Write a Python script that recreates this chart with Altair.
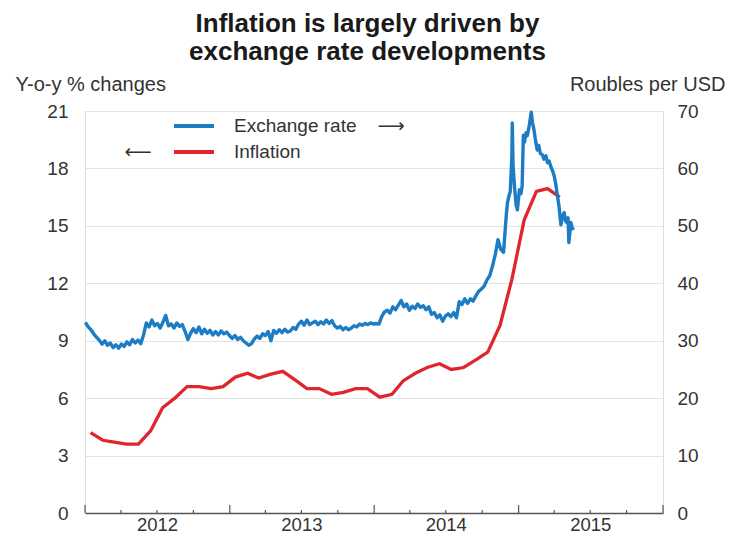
import altair as alt
import pandas as pd

# ---------------- data ----------------
TITLE_TEXT = "Inflation is largely driven by\nexchange rate developments"
LEFT_TITLE = "Y-o-y % changes"
RIGHT_TITLE = "Roubles per USD"
SERIES = ["Exchange rate", "Inflation"]
LEFT_TICKS = [0, 3, 6, 9, 12, 15, 18, 21]
RIGHT_TICKS = [0, 10, 20, 30, 40, 50, 60, 70]
YEARS = [2012, 2013, 2014, 2015]
ARROW_LEFT = "\u27f5"
ARROW_RIGHT = "\u27f6"

# Inflation, y-o-y %, monthly Jan 2012 - Apr 2015
inflation_values = [
    4.2, 3.8, 3.7, 3.6, 3.6, 4.3, 5.5, 6.0, 6.6, 6.6, 6.5, 6.6,
    7.1, 7.3, 7.05, 7.25, 7.4, 6.95, 6.5, 6.5, 6.2, 6.3, 6.5, 6.5,
    6.05, 6.2, 6.9, 7.3, 7.6, 7.8, 7.5, 7.6, 8.0, 8.4, 9.8, 12.2,
    15.3, 16.8, 16.95, 16.5,
]

# Exchange rate, roubles per USD, weekly (Mondays) 2 Jan 2012 - 24 Nov 2014
exchange_weekly = [
    # 2012
    33.2, 32.4, 31.9, 31.2, 30.6,
    30.1, 29.4, 30.0, 29.2,
    29.6, 28.8, 29.3, 28.7,
    29.4, 29.0, 29.8, 29.3, 30.2,
    29.6, 30.1, 29.5, 31.0,
    33.1, 32.4, 33.6, 32.6,
    33.0, 32.2, 33.2, 34.4, 32.6,
    32.9, 32.2, 33.1, 32.5,
    32.8, 31.6, 30.2, 31.3,
    32.1, 31.4, 32.4, 31.2, 32.0,
    31.3, 31.8, 31.0, 31.6,
    31.0, 31.7, 31.2, 31.5, 30.9,
    # 2013
    30.4, 30.9, 30.2, 30.6,
    30.0, 29.6, 29.2, 29.5,
    30.3, 30.8, 30.4, 31.2,
    30.9, 31.6, 30.0, 31.8, 31.3,
    31.9, 31.4, 32.0, 31.5,
    31.7, 32.3, 32.0, 32.9,
    33.4, 32.7, 33.6, 32.8, 33.1,
    33.4, 32.8, 33.3, 32.9,
    33.6, 33.0, 33.5, 32.6, 32.2,
    32.5, 31.9, 32.3, 31.9,
    32.2, 32.6, 32.4, 32.9,
    32.7, 33.0, 32.8, 33.1, 32.9,
    # 2014
    33.0, 32.9, 34.2, 35.0,
    35.3, 34.8, 35.9, 35.4,
    36.2, 37.0, 35.9, 36.4, 35.3,
    36.0, 35.6, 36.4, 35.8,
    36.1, 35.4, 35.9, 34.6,
    34.9, 34.0, 34.5, 33.4, 34.3,
    34.7, 34.2, 34.9, 34.0,
    36.8, 36.3, 37.3, 36.5,
    37.3, 36.9, 37.8, 38.6, 39.0,
    39.5, 40.6, 41.3, 43.0,
    45.0, 47.6, 45.9, 45.4,
]

# Exchange rate during the crisis, Dec 2014 - May 2015
crisis_dates = [
    "2014-12-01", "2014-12-04", "2014-12-08", "2014-12-11", "2014-12-15",
    "2014-12-16", "2014-12-18", "2014-12-22", "2014-12-26", "2014-12-29",
    "2015-01-03", "2015-01-07", "2015-01-10", "2015-01-13", "2015-01-16",
    "2015-01-20", "2015-01-23", "2015-01-28", "2015-02-02", "2015-02-05",
    "2015-02-09", "2015-02-12", "2015-02-17", "2015-02-21", "2015-02-25",
    "2015-03-02", "2015-03-06", "2015-03-11", "2015-03-15", "2015-03-19",
    "2015-03-24", "2015-03-28", "2015-04-01", "2015-04-05", "2015-04-08",
    "2015-04-13", "2015-04-18", "2015-04-22", "2015-04-26", "2015-04-30",
    "2015-05-03", "2015-05-06", "2015-05-08", "2015-05-13", "2015-05-17",
    "2015-05-21",
]
crisis_values = [
    52.0, 54.1, 55.3, 56.0, 62.0,
    67.9, 60.5, 56.5, 53.5, 52.8,
    56.3, 55.6, 57.0, 65.8, 64.6,
    66.2, 65.7, 67.5, 69.8, 68.0,
    66.7, 65.2, 63.2, 64.0, 62.6,
    62.4, 61.6, 62.2, 61.0, 61.3,
    60.2, 59.6, 58.7, 57.2, 55.8,
    53.5, 50.2, 51.6, 52.3, 50.8,
    50.6, 51.4, 47.1, 50.6, 49.5,
    49.7,
]

# ---------------- styling ----------------
FONT = "Liberation Sans, Arial, Helvetica, sans-serif"
ARROW_FONT = "DejaVu Sans, Liberation Sans, sans-serif"
TEXT = "#333333"
BLUE = "#1c7cc4"
RED = "#e0262d"
GRID = "#e4e4e4"
AXIS_COL = "#555555"
W, H = 578, 402

# ---------------- tables ----------------
infl_dates = (pd.date_range("2012-01-01", periods=len(inflation_values), freq="MS")
              + pd.Timedelta(days=14)).strftime("%Y-%m-%d")
infl_df = pd.DataFrame({"date": list(infl_dates), "value": inflation_values,
                        "series": "Inflation"})

week_dates = pd.date_range("2012-01-02", periods=len(exchange_weekly), freq="7D").strftime("%Y-%m-%d")
fx_df = pd.DataFrame({"date": list(week_dates) + crisis_dates,
                      "value": exchange_weekly + crisis_values,
                      "series": "Exchange rate"})

quarters = pd.date_range("2012-01-01", "2016-01-01", freq="QS")
ticks_df = pd.DataFrame({"date": quarters.strftime("%Y-%m-%d"),
                         "major": [q.month == 1 for q in quarters]})
major_df = ticks_df[ticks_df["major"]]
minor_df = ticks_df[~ticks_df["major"]]

title_df = pd.DataFrame({"t": [TITLE_TEXT]})
arrow_l_df = pd.DataFrame({"arrow": [ARROW_LEFT]})
arrow_r_df = pd.DataFrame({"arrow": [ARROW_RIGHT]})

# ---------------- encodings ----------------
x_axis = alt.Axis(
    values=[alt.DateTime(year=y, month=7, date=1, utc=True) for y in YEARS],
    labelExpr="utcFormat(datum.value, '%Y')",
    ticks=False, tickSize=0, grid=False, domain=True,
    domainColor=AXIS_COL, domainWidth=1.4,
    labelFont=FONT, labelFontSize=18.5, labelColor=TEXT, labelPadding=2,
    labelFlush=False, labelOverlap=False, title=None,
)
X = alt.X("date:T", axis=x_axis, title=None,
          scale=alt.Scale(type="utc",
                          domain=[alt.DateTime(year=2012, month=1, date=1, utc=True),
                                  alt.DateTime(year=2016, month=1, date=1, utc=True)]))

color = alt.Color(
    "series:N",
    scale=alt.Scale(domain=SERIES, range=[BLUE, RED]),
    legend=alt.Legend(
        title=None, orient="none", legendX=87, legendY=5, padding=0,
        symbolType="stroke", symbolSize=1600, symbolStrokeWidth=4,
        clipHeight=20, rowPadding=6, labelOffset=18, labelLimit=300,
        labelFont=FONT, labelFontSize=19, labelColor=TEXT,
    ),
)

red = alt.Chart(infl_df).mark_line(strokeWidth=3.3).encode(
    x=X,
    y=alt.Y("value:Q", scale=alt.Scale(domain=[0, 21], nice=False, zero=True),
            axis=alt.Axis(orient="left", values=LEFT_TICKS, title=LEFT_TITLE,
                          titleAngle=0, titleAlign="left", titleBaseline="alphabetic",
                          titleX=-70, titleY=-21, titleFont=FONT, titleFontSize=20,
                          titleFontWeight="normal", titleColor=TEXT,
                          grid=True, gridColor=GRID, gridWidth=1.2,
                          domain=False, ticks=False, labelPadding=17,
                          labelFont=FONT, labelFontSize=19, labelColor=TEXT)),
    color=color,
)

blue = alt.Chart(fx_df).mark_line(strokeWidth=3.4, strokeJoin="round").encode(
    x=X,
    y=alt.Y("value:Q", scale=alt.Scale(domain=[0, 70], nice=False, zero=True),
            axis=alt.Axis(orient="right", values=RIGHT_TICKS, title=RIGHT_TITLE,
                          titleAngle=0, titleAlign="right", titleBaseline="alphabetic",
                          titleX=62, titleY=-21, titleFont=FONT, titleFontSize=20,
                          titleFontWeight="normal", titleColor=TEXT,
                          grid=False, domain=False, ticks=False, labelPadding=14,
                          labelFont=FONT, labelFontSize=19, labelColor=TEXT)),
    color=color,
)

major_ticks = alt.Chart(major_df).mark_rule(color=AXIS_COL, strokeWidth=1.2).encode(
    x=X, y=alt.value(H), y2=alt.value(H - 8))
minor_ticks = alt.Chart(minor_df).mark_rule(color=AXIS_COL, strokeWidth=1.2).encode(
    x=X, y=alt.value(H), y2=alt.value(H - 3))

arrow_l = alt.Chart(arrow_l_df).mark_text(font=ARROW_FONT, fontSize=19, color=TEXT,
                                          align="center", baseline="middle").encode(
    x=alt.value(53), y=alt.value(41), text="arrow:N")
arrow_r = alt.Chart(arrow_r_df).mark_text(font=ARROW_FONT, fontSize=19, color=TEXT,
                                          align="center", baseline="middle").encode(
    x=alt.value(306), y=alt.value(15), text="arrow:N")

title = alt.Chart(title_df).mark_text(font=FONT, fontSize=26, fontWeight="bold",
                                      color="#1a1a1a", align="center", baseline="top",
                                      lineBreak="\n", lineHeight=27.5).encode(
    x=alt.value(282.5), y=alt.value(-100), text="t:N")

chart = alt.layer(red, blue, major_ticks, minor_ticks, arrow_l, arrow_r, title).resolve_scale(
    y="independent"
).properties(
    width=W, height=H,
    autosize=alt.AutoSizeParams(type="none"),
    padding={"left": 77, "top": 103, "right": 63, "bottom": 21},
).configure_view(stroke=None).configure(background="white")

chart.save("out.html", embed_options={"renderer": "svg", "actions": False})
